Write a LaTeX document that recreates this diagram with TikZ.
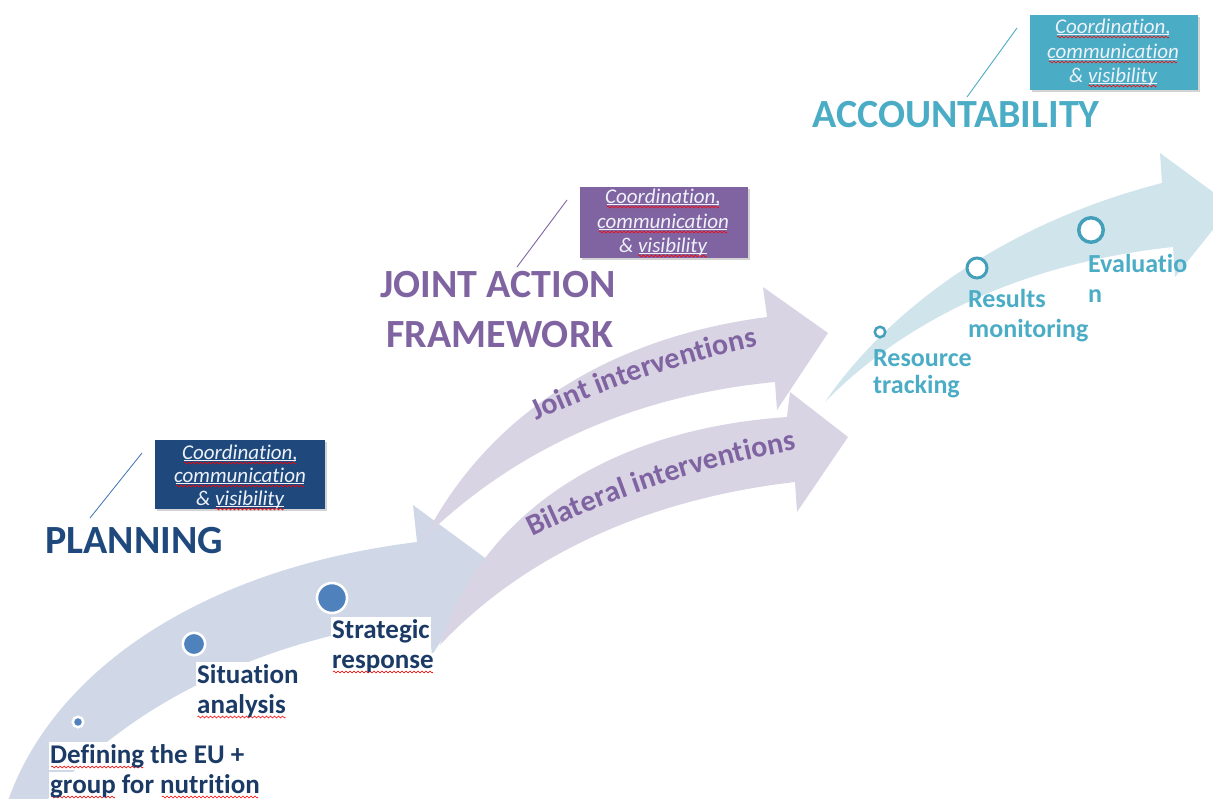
\documentclass[tikz,border=0pt]{standalone}
\usepackage{fontspec}
\setmainfont{Carlito}[RawFeature={-liga;-clig;-calt;-dlig}]
\usetikzlibrary{decorations.text,shadows}
\definecolor{planblue}{HTML}{1F497D}
\definecolor{labblue}{HTML}{1B3A66}
\definecolor{dotblue}{HTML}{4F81BD}
\definecolor{planband}{HTML}{D0D8E8}
\definecolor{purp}{HTML}{8064A2}
\definecolor{purpband}{HTML}{D9D4E4}
\definecolor{tealc}{HTML}{4BACC6}
\definecolor{ringteal}{HTML}{449FBA}
\definecolor{tealband}{HTML}{D0E4EC}
\definecolor{calltext}{HTML}{EEF2F8}
\newsavebox\wavebox
\newsavebox\cvbox
\newsavebox\wordbox
\newcommand\wavepath{%
 \pgfpathmoveto{\pgfpoint{0pt}{0pt}}%
 \pgfpathsine{\pgfpoint{1pt}{0.9pt}}%
 \pgfpathcosine{\pgfpoint{1pt}{-0.9pt}}%
 \pgfpathsine{\pgfpoint{1pt}{-0.9pt}}%
 \pgfpathcosine{\pgfpoint{1pt}{0.9pt}}}
\newcommand\markword[2]{\sbox\wordbox{#2}\rlap{\raisebox{-5pt}[0pt][0pt]{\hbox to\wd\wordbox{\cleaders\copy#1\hfil}}}\usebox\wordbox}
\newcommand\redwave[1]{\markword{\wavebox}{#1}}
\newcommand\cvwave[1]{\markword{\cvbox}{#1}}
\newcommand\jifont{\fontsize{30}{30}\selectfont\bfseries\color{purp}}
\begin{document}
\sbox\wavebox{\begin{pgfpicture}\wavepath\pgfsetstrokecolor{red}\pgfsetlinewidth{0.6pt}\pgfusepath{stroke}\pgfresetboundingbox\pgfpathrectangle{\pgfpoint{0pt}{-1pt}}{\pgfpoint{4pt}{2pt}}\pgfusepath{use as bounding box}\end{pgfpicture}}%
\sbox\cvbox{\begin{pgfpicture}\wavepath\pgfsetstrokecolor{red}\pgfsetlinewidth{0.6pt}\pgfusepath{stroke}\pgfpathmoveto{\pgfpoint{0pt}{3pt}}\pgfpathlineto{\pgfpoint{4pt}{3pt}}\pgfsetstrokecolor{calltext}\pgfsetlinewidth{0.7pt}\pgfusepath{stroke}\pgfresetboundingbox\pgfpathrectangle{\pgfpoint{0pt}{-1pt}}{\pgfpoint{4pt}{4pt}}\pgfusepath{use as bounding box}\end{pgfpicture}}%
\begin{tikzpicture}[x=1pt,y=-1pt,
 plab/.style={anchor=base west, inner xsep=1pt, inner ysep=2pt, fill=white, text=labblue, font=\fontsize{27}{31}\selectfont\bfseries},
 tlab/.style={anchor=base west, inner sep=0pt, text=tealc, font=\fontsize{26}{30}\selectfont\bfseries},
 headtxt/.style={inner sep=0pt, font=\fontsize{40}{48}\selectfont\bfseries},
 cbox/.style={draw=none, minimum width=168pt, inner sep=0pt, drop shadow={shadow xshift=1.5pt,shadow yshift=-2pt,opacity=0.35}},
 ctext/.style={anchor=base, inner sep=0pt, text=calltext, font=\fontsize{21}{25}\selectfont\itshape},
 pdot/.style={circle, fill=dotblue, draw=white, line width=2.5pt, inner sep=0pt},
 tring/.style={circle, fill=white, draw=ringteal, inner sep=0pt},
 lead/.style={line width=0.9pt}
]
\useasboundingbox (0,0) rectangle (1213,798);

% ---------- bands ----------
\fill[planband] (5,810) .. controls (45,680) and (190,570) .. (417,542) -- (413,505) -- (492,563) -- (432,655) -- (428,620) .. controls (300,630) and (130,690) .. (35,815) -- cycle;
\fill[purpband] (425,537) .. controls (480,430) and (590,340) .. (767,317) -- (763,287) -- (828,333) -- (777,410) -- (775,382) .. controls (640,395) and (520,445) .. (425,537) -- cycle;
\fill[purpband] (440,645) .. controls (480,520) and (600,430) .. (787,417) -- (790,392) -- (848,437) -- (797,512) -- (795,482) .. controls (640,500) and (520,560) .. (440,645) -- cycle;
\fill[tealband] (825,402) .. controls (860,350) and (960,235) .. (1162,183) -- (1160,153) -- (1232,206) -- (1175,277) -- (1173,247) .. controls (1050,260) and (920,305) .. (825,402) -- cycle;

% ---------- curved texts ----------
\path[decorate, decoration={text along path, text align=center, text={|\jifont|Joint interventions}}]
  (530,424) .. controls (590,395) and (680,362) .. (765,345);
\path[decorate, decoration={text along path, text align=center, text={|\jifont|Bilateral interventions}}]
  (524,541) .. controls (592,506) and (700,466) .. (806,448);

% ---------- planning ----------
\node[pdot, minimum size=10.5pt] (d1) at (78,722) {};
\node[pdot, minimum size=22.5pt] (d2) at (194,644) {};
\node[pdot, minimum size=30pt] (d3) at (332,598) {};
\node[plab] (l1a) at (49,763) {\redwave{Defining} the EU +};
\node[plab] (l1b) at (49,793) {\redwave{group} for \redwave{nutrition}};
\node[plab] (l2a) at (196,683) {Situation};
\node[plab] (l2b) at (196,713) {\redwave{analysis}};
\node[plab] (l3a) at (331,638) {Strategic};
\node[plab] (l3b) at (331,668) {\redwave{response}};
\node[headtxt, anchor=base west, text=planblue] (hplan) at (45,553) {PLANNING};
\node[cbox, fill=planblue, minimum width=170pt, minimum height=69pt] (bplan) at (240,474.5) {};
\node[ctext] (cp1) at (240,459) {\cvwave{Coordination,}};
\node[ctext] (cp2) at (240,482) {\cvwave{communication}};
\node[ctext] (cp3) at (240,505) {\& \cvwave{visibility}};
\coordinate (pl1) at (142,453);
\coordinate (pl2) at (90,518);
\draw[lead, dotblue] (pl1) -- (pl2);

% ---------- joint action ----------
\node[headtxt, anchor=base, text=purp] (hja1) at (498,297) {JOINT ACTION};
\node[headtxt, anchor=base, text=purp] (hja2) at (500,347) {FRAMEWORK};
\node[cbox, fill=purp, minimum height=71pt] (bjoint) at (664,222.5) {};
\node[ctext] (cj1) at (663,203) {\cvwave{Coordination,}};
\node[ctext] (cj2) at (663,228) {\cvwave{communication}};
\node[ctext] (cj3) at (663,252) {\& \cvwave{visibility}};
\coordinate (jl1) at (567,200);
\coordinate (jl2) at (517,267);
\draw[lead, purp] (jl1) -- (jl2);

% ---------- accountability ----------
\node[tring, line width=2.5pt, minimum size=10.5pt] (r1) at (880,332) {};
\node[tring, line width=3pt, minimum size=20pt] (r2) at (977,268) {};
\node[tring, line width=3.5pt, minimum size=24.5pt] (r3) at (1091,230) {};
\node[tlab] (t1a) at (873,366) {Resource};
\node[tlab] (t1b) at (873,393) {tracking};
\node[tlab] (t2a) at (968,307) {Results};
\node[tlab] (t2b) at (968,337) {monitoring};
\node[tlab] (t3a) at (1088,272) {Evaluatio};
\node[tlab] (t3b) at (1088,302) {n};
\node[headtxt, anchor=base west, text=tealc] (hacc) at (812,127) {ACCOUNTABILITY};
\node[cbox, fill=tealc, minimum height=75pt] (bacc) at (1114,52.5) {};
\node[ctext] (ca1) at (1113,33) {\cvwave{Coordination,}};
\node[ctext] (ca2) at (1113,58) {\cvwave{communication}};
\node[ctext] (ca3) at (1113,82) {\& \cvwave{visibility}};
\coordinate (al1) at (1017,28);
\coordinate (al2) at (967,97);
\draw[lead, tealc] (al1) -- (al2);
\end{tikzpicture}
\end{document}
